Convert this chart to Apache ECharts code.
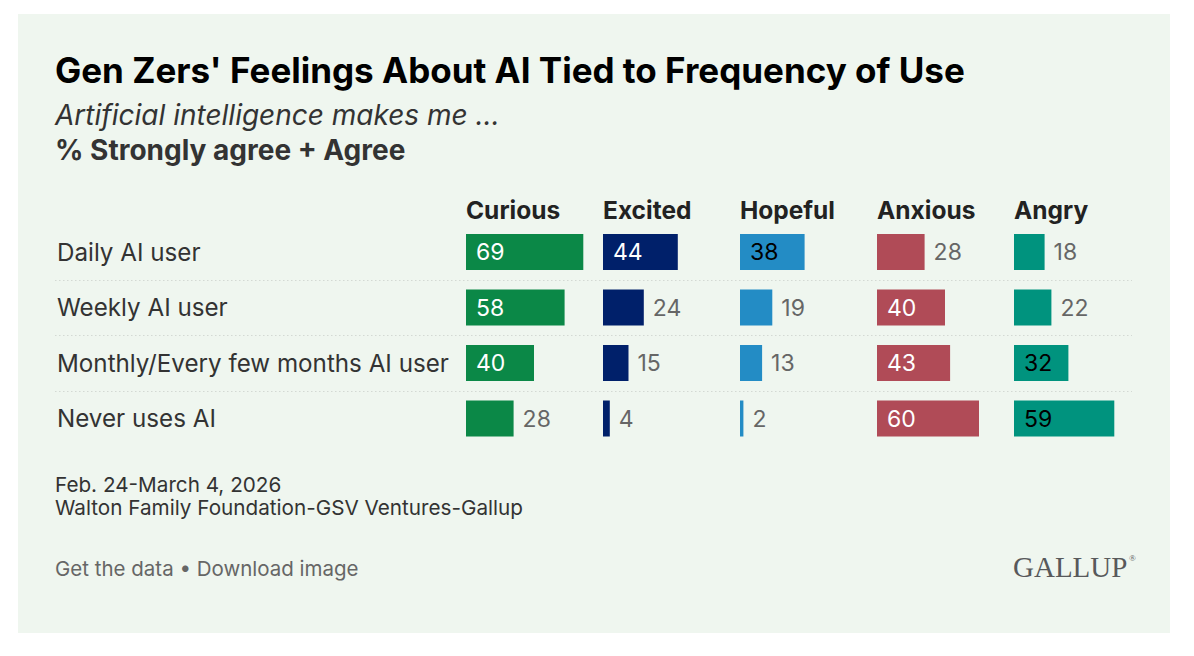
<!DOCTYPE html>
<html>
<head>
<meta charset="utf-8">
<script src="https://cdn.jsdelivr.net/npm/echarts@6/dist/echarts.min.js"></script>
<style>
  html, body { margin: 0; padding: 0; background: #ffffff; }
  #chart { width: 1194px; height: 656px; }
</style>
</head>
<body>
<div id="chart"></div>
<script>
// ---- data ----
const rowLabels = ['Daily AI user', 'Weekly AI user', 'Monthly/Every few months AI user', 'Never uses AI'];
const feelings = ['Curious', 'Excited', 'Hopeful', 'Anxious', 'Angry'];
const curious = [69, 58, 40, 28];
const excited = [44, 24, 15, 4];
const hopeful = [38, 19, 13, 2];
const anxious = [28, 40, 43, 60];
const angry = [18, 22, 32, 59];

const seriesValues = [curious, excited, hopeful, anxious, angry];
const colors = ['#0b8847', '#00206a', '#238cc5', '#b04b57', '#00937e'];
const insideTextColors = ['#ffffff', '#ffffff', '#000000', '#ffffff', '#000000'];

const FONT = 'Inter, Roboto, "Noto Sans", sans-serif';
const colLeft0 = 466, colStep = 137, colWidth = 136;
const gridTop = 224.25, rowH = 55.5;

const chart = echarts.init(document.getElementById('chart'), null, { renderer: 'svg' });

const grids = [], xAxes = [], yAxes = [], series = [];
feelings.forEach((f, i) => {
  grids.push({ left: colLeft0 + colStep * i, top: gridTop, width: colWidth, height: rowH * 4, containLabel: false });
  xAxes.push({ type: 'value', gridIndex: i, min: 0, max: 80, show: false });
  yAxes.push({
    type: 'category', gridIndex: i, data: rowLabels, inverse: true,
    axisLine: { show: false }, axisTick: { show: false }, splitLine: { show: false },
    axisLabel: i === 0 ? { show: true, align: 'left', margin: colLeft0 - 57, fontSize: 24.2, color: '#333333', fontFamily: FONT } : { show: false }
  });
  series.push({
    type: 'bar', xAxisIndex: i, yAxisIndex: i, barWidth: 36,
    itemStyle: { color: colors[i] },
    silent: true,
    data: seriesValues[i].map(v => ({
      value: v,
      label: v >= 30
        ? { show: true, position: 'insideLeft', distance: 10, color: insideTextColors[i], fontSize: 23, fontFamily: FONT }
        : { show: true, position: 'right', distance: 9, color: '#666666', fontSize: 23, fontFamily: FONT }
    }))
  });
});

// divider grid (dotted lines between rows)
grids.push({ left: 55, top: gridTop + rowH, width: 1077, height: rowH * 2 });
xAxes.push({ type: 'value', gridIndex: 5, min: 0, max: 1, show: false });
yAxes.push({
  type: 'value', gridIndex: 5, min: 0, max: 2, interval: 1,
  axisLine: { show: false }, axisTick: { show: false }, axisLabel: { show: false },
  splitLine: { show: true, lineStyle: { type: [1.5, 2.5], color: '#d3d9d3', width: 1 } }
});
series.push({ type: 'line', xAxisIndex: 5, yAxisIndex: 5, data: [], silent: true });

const txt = (text, x, y, font, fill, extra) => Object.assign({
  type: 'text', x: x, y: y, silent: true,
  style: Object.assign({ text: text, font: font, fill: fill, textVerticalAlign: 'middle', textAlign: 'left' }, extra || {})
});

const graphics = [
  { type: 'rect', shape: { x: 18, y: 14, width: 1152, height: 619 }, style: { fill: '#eff6ef' }, silent: true, z: -10 },
  txt("Gen Zers' Feelings About AI Tied to Frequency of Use", 55, 70, 'bold 35px ' + FONT, '#000000'),
  txt('Artificial intelligence makes me …', 55, 115, 'italic 28px ' + FONT, '#333333'),
  txt('% Strongly agree + Agree', 55, 150, 'bold 28px ' + FONT, '#333333'),
  txt('Feb. 24-March 4, 2026', 55, 484, '20.7px ' + FONT, '#333333'),
  txt('Walton Family Foundation-GSV Ventures-Gallup', 55, 507, '20.7px ' + FONT, '#333333'),
  txt('Get the data • Download image', 55, 568, '20.5px ' + FONT, '#666666'),
  txt('GALLUP', 1013, 567, '29px "Liberation Serif", "DejaVu Serif", serif', '#58595b'),
  txt('®', 1129, 558, '9px "Liberation Serif", serif', '#58595b')
];
feelings.forEach((f, i) => {
  graphics.push(txt(f, colLeft0 + colStep * i, 210, 'bold 24.5px ' + FONT, '#222222'));
});

chart.setOption({
  backgroundColor: '#ffffff',
  animation: false,
  grid: grids,
  xAxis: xAxes,
  yAxis: yAxes,
  series: series,
  graphic: graphics
});
</script>
</body>
</html>
